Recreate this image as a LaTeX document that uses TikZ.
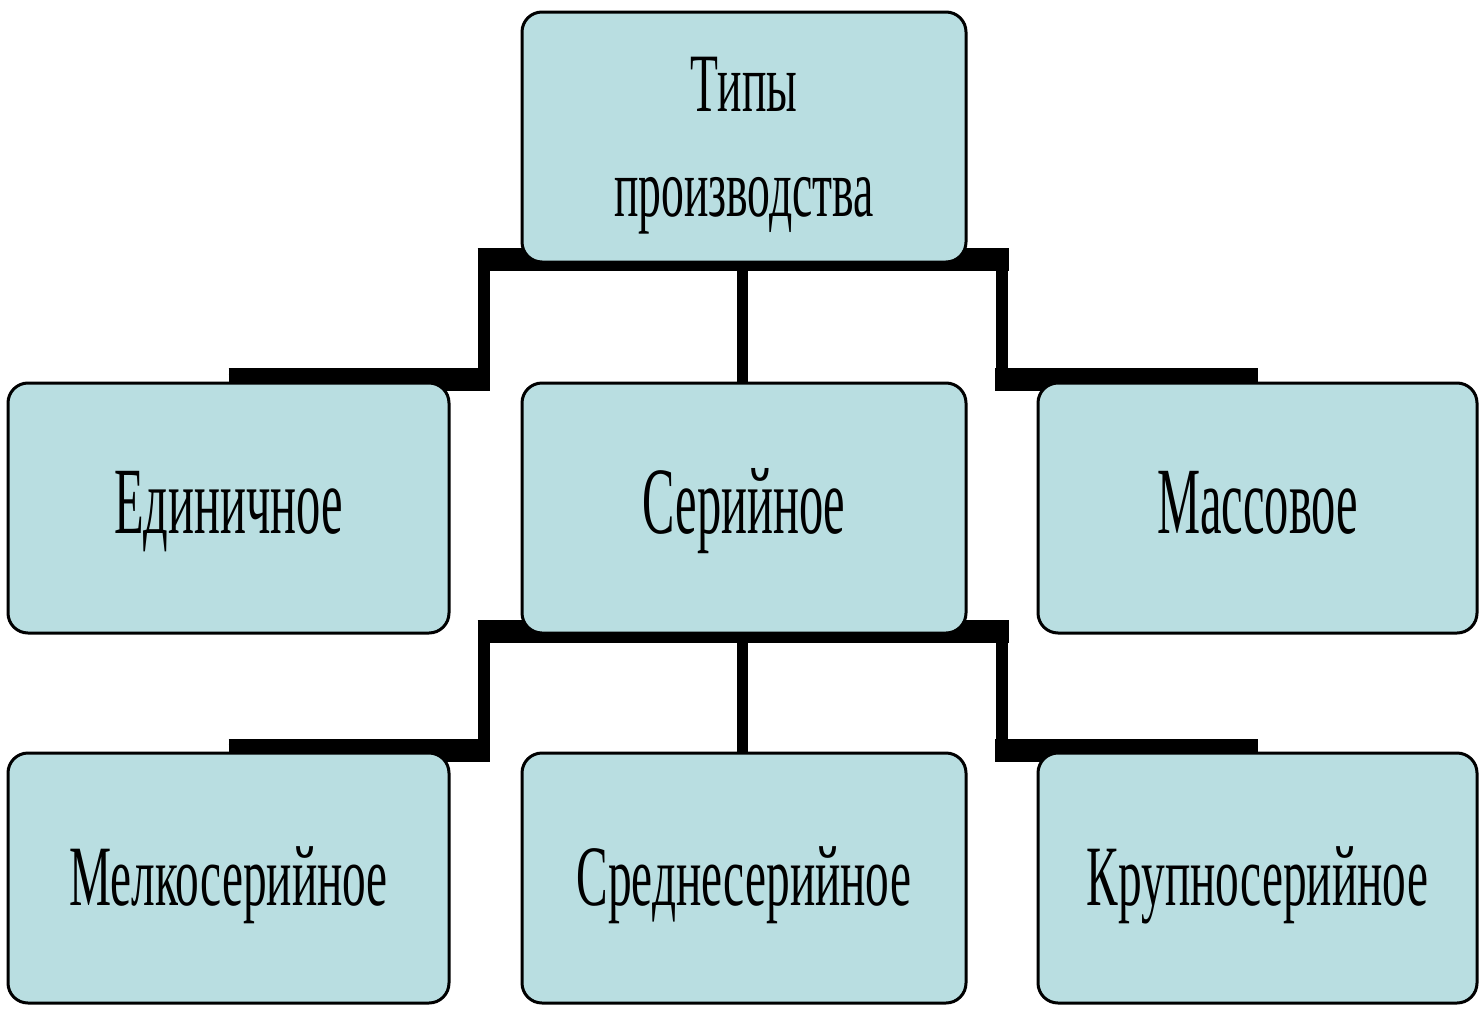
\documentclass[tikz,border=0pt]{standalone}
\usepackage{fontspec}
\setmainfont{Liberation Serif}[FakeStretch=0.55]
\newfontfamily\midfont{Liberation Serif}[FakeStretch=0.51]
\usetikzlibrary{calc,backgrounds}
\definecolor{boxfill}{RGB}{185,222,225}
\begin{document}
\begin{tikzpicture}[x=1pt,y=-1pt,
  box/.style={draw=black, line width=3pt, fill=boxfill, rounded corners=20pt,
    inner sep=0pt, align=center, minimum height=250pt},
  midtext/.style={font=\midfont\fontsize{95}{105}\selectfont, text height=70pt, text depth=20pt},
  bottext/.style={font=\fontsize{86}{100}\selectfont, text height=74pt, text depth=20pt},
  toptext/.style={font=\fontsize{83}{105}\selectfont},
  vline/.style={draw=black, line width=12pt, line join=miter},
  hline/.style={draw=black, line width=23pt, line cap=butt}]
\useasboundingbox (0,0) rectangle (1480,1009);

% nodes
\node[box, toptext, minimum width=444pt] (top) at (744,137) {\rule{0pt}{72pt}Типы\\производства};
\node[box, midtext, minimum width=441pt] (ed) at (228.5,508) {Единичное};
\node[box, midtext, minimum width=444pt] (ser) at (744,508) {Серийное};
\node[box, midtext, minimum width=439pt] (mass) at (1257.5,508) {Массовое};
\node[box, bottext, minimum width=441pt] (melk) at (228.5,878) {Мелкосерийное};
\node[box, bottext, minimum width=444pt] (sred) at (744,878) {Среднесерийное};
\node[box, bottext, minimum width=439pt] (krup) at (1257.5,878) {Крупносерийное};

% connectors behind boxes
\begin{scope}[on background layer]
  % upper tier
  \coordinate (tl) at ([xshift=-37pt,yshift=4pt]top.south west);
  \coordinate (tr) at ([xshift=34pt,yshift=4pt]top.south east);
  \coordinate (edj) at ([yshift=2pt]ed.north);
  \coordinate (maj) at ([yshift=2pt]mass.north);
  \draw[vline] (edj) -| (tl) -- (tr) |- (maj);
  \draw[hline] ([xshift=-6pt]tl) -- ([xshift=7pt]tr);
  \draw[hline] (edj) -- ([xshift=6pt]tl |- edj);
  \draw[hline] (maj) -- ([xshift=-7pt]tr |- maj);
  \draw[line width=11pt] ([xshift=-2pt]top.south) -- ([xshift=-2pt]ser.north);
  % lower tier
  \coordinate (sl) at ([xshift=-37pt,yshift=3pt]ser.south west);
  \coordinate (sr) at ([xshift=34pt,yshift=3pt]ser.south east);
  \coordinate (mej) at ([yshift=1.5pt]melk.north);
  \coordinate (krj) at ([yshift=1.5pt]krup.north);
  \draw[vline] (mej) -| (sl) -- (sr) |- (krj);
  \draw[hline] ([xshift=-6pt]sl) -- ([xshift=7pt]sr);
  \draw[hline] (mej) -- ([xshift=6pt]sl |- mej);
  \draw[hline] (krj) -- ([xshift=-7pt]sr |- krj);
  \draw[line width=11pt] ([xshift=-2pt]ser.south) -- ([xshift=-2pt]sred.north);
\end{scope}
\end{tikzpicture}
\end{document}
